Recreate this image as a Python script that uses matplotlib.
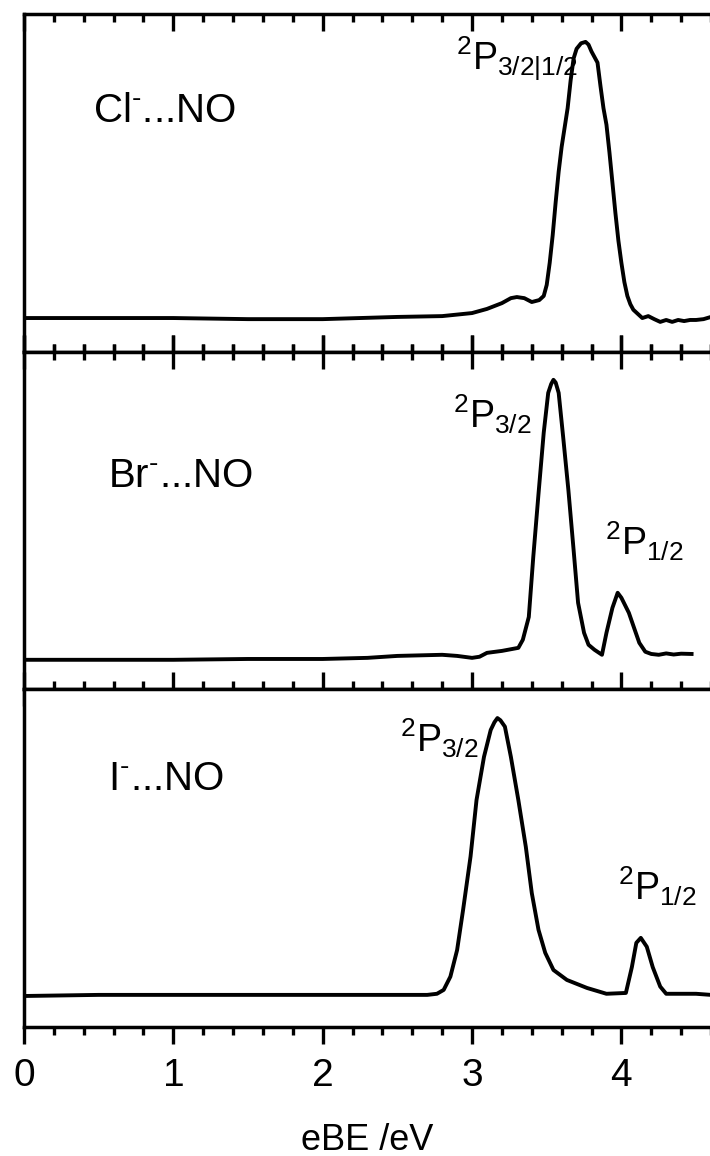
import matplotlib
matplotlib.use("Agg")
import matplotlib.pyplot as plt
from matplotlib.ticker import MultipleLocator

plt.rcParams['font.family'] = ['Liberation Sans', 'DejaVu Sans']
plt.rcParams['mathtext.fontset'] = 'custom'
plt.rcParams['mathtext.rm'] = 'Liberation Sans'
plt.rcParams['mathtext.it'] = 'Liberation Sans'
plt.rcParams['mathtext.default'] = 'regular'

# Cl-...NO spectrum (normalised intensity)
cl_ebe = [0.0, 0.5, 1.0, 1.5, 2.0, 2.5, 2.8, 3.0, 3.1, 3.2, 3.26, 3.3, 3.35, 3.4,
          3.45, 3.48, 3.5, 3.52, 3.54, 3.56, 3.58, 3.6, 3.62, 3.64, 3.66, 3.68,
          3.7, 3.73, 3.76, 3.78, 3.8, 3.82, 3.84, 3.86, 3.88, 3.9, 3.92, 3.94,
          3.96, 3.98, 4.0, 4.02, 4.04, 4.06, 4.08, 4.1, 4.12, 4.14, 4.18, 4.22,
          4.26, 4.3, 4.34, 4.38, 4.42, 4.46, 4.5, 4.55, 4.6]
cl_int = [0.0, 0.0, 0.0, -0.004, -0.004, 0.004, 0.007, 0.018, 0.033, 0.054, 0.072,
          0.076, 0.072, 0.058, 0.065, 0.08, 0.12, 0.20, 0.30, 0.42, 0.53, 0.62,
          0.69, 0.76, 0.86, 0.94, 0.975, 0.995, 1.0, 0.99, 0.965, 0.945, 0.925,
          0.84, 0.76, 0.70, 0.60, 0.49, 0.38, 0.28, 0.20, 0.13, 0.08, 0.05,
          0.03, 0.02, 0.01, 0.0, 0.007, -0.004, -0.014, -0.007, -0.014, -0.007,
          -0.011, -0.007, -0.007, -0.004, 0.004]

# Br-...NO spectrum
br_ebe = [0.0, 0.5, 1.0, 1.5, 2.0, 2.3, 2.5, 2.8, 2.9, 3.0, 3.05, 3.1, 3.2, 3.27,
          3.31, 3.34, 3.38, 3.41, 3.445, 3.48, 3.51, 3.53, 3.545, 3.56, 3.58,
          3.61, 3.645, 3.68, 3.71, 3.75, 3.78, 3.82, 3.87, 3.9, 3.94, 3.975, 4.0,
          4.05, 4.09, 4.12, 4.16, 4.2, 4.25, 4.3, 4.35, 4.4, 4.47]
br_int = [-0.007, -0.007, -0.007, -0.004, -0.004, 0.0, 0.007, 0.011, 0.007, 0.0,
          0.004, 0.018, 0.025, 0.032, 0.036, 0.065, 0.147, 0.363, 0.59, 0.81,
          0.953, 0.985, 1.0, 0.99, 0.953, 0.795, 0.604, 0.388, 0.198, 0.09,
          0.047, 0.029, 0.011, 0.09, 0.18, 0.234, 0.216, 0.162, 0.10, 0.054,
          0.022, 0.014, 0.011, 0.016, 0.012, 0.015, 0.014]

# I-...NO spectrum
i_ebe = [0.0, 0.5, 1.0, 1.5, 2.0, 2.5, 2.7, 2.765, 2.81, 2.855, 2.9, 2.94, 2.99,
         3.03, 3.08, 3.125, 3.15, 3.17, 3.19, 3.22, 3.26, 3.31, 3.36, 3.40,
         3.445, 3.49, 3.545, 3.635, 3.77, 3.9, 4.03, 4.07, 4.10, 4.13, 4.17,
         4.21, 4.26, 4.30, 4.4, 4.5, 4.6]
i_int = [-0.004, 0.0, 0.0, 0.0, 0.0, 0.0, 0.0, 0.004, 0.018, 0.066, 0.162, 0.307,
         0.5, 0.704, 0.86, 0.957, 0.985, 1.0, 0.992, 0.969, 0.86, 0.704, 0.535,
         0.368, 0.235, 0.152, 0.09, 0.054, 0.025, 0.004, 0.007, 0.10, 0.188,
         0.206, 0.174, 0.10, 0.03, 0.004, 0.004, 0.004, 0.0]

panel_names = [r"Cl$^{\text{-}}$...NO", r"Br$^{\text{-}}$...NO", r"I$^{\text{-}}$...NO"]
name_pos = [(0.46, 0.71), (0.563, 0.615), (0.563, 0.74)]
panel_ylims = [(-0.123, 1.101), (-0.112, 1.10), (-0.116, 1.105)]

fig = plt.figure(figsize=(7.1, 11.56), dpi=100)
W = 687 / 710
ax_cl = fig.add_axes([24 / 710, 1 - 352 / 1156, W, 338 / 1156])
ax_br = fig.add_axes([24 / 710, 1 - 689 / 1156, W, 337 / 1156])
ax_i = fig.add_axes([24 / 710, 1 - 1027 / 1156, W, 338 / 1156])

axes = [ax_cl, ax_br, ax_i]
data = [(cl_ebe, cl_int), (br_ebe, br_int), (i_ebe, i_int)]

for ax, (x, y), name, pos, yl in zip(axes, data, panel_names, name_pos, panel_ylims):
    ax.plot(x, y, color='black', lw=2.8, solid_joinstyle='round')
    ax.set_xlim(0, 4.6)
    ax.set_ylim(*yl)
    ax.set_yticks([])
    ax.xaxis.set_major_locator(MultipleLocator(1))
    ax.xaxis.set_minor_locator(MultipleLocator(0.2))
    for s in ax.spines.values():
        s.set_linewidth(2.5)
    ax.spines['right'].set_visible(False)
    ax.text(pos[0], pos[1], name, fontsize=29, va='baseline', ha='left')

# ticks
ax_cl.tick_params(axis='x', which='both', direction='in', top=True, bottom=True,
                  labelbottom=False, width=2.4)
ax_cl.tick_params(axis='x', which='major', length=12)
ax_cl.tick_params(axis='x', which='minor', length=6)
ax_br.tick_params(axis='x', which='both', direction='inout', top=True, bottom=True,
                  labelbottom=False, width=2.4)
ax_br.tick_params(axis='x', which='major', length=24)
ax_br.tick_params(axis='x', which='minor', length=12)
ax_i.tick_params(axis='x', which='both', direction='out', top=False, bottom=True,
                 width=2.4, labelsize=28, pad=10)
ax_i.tick_params(axis='x', which='major', length=12)
ax_i.tick_params(axis='x', which='minor', length=6)

# x axis title, baseline placed near the bottom edge as in the original
fig.text((24 + 710) / 2 / 710, 1 - 1150 / 1156, "eBE /eV", fontsize=26,
         ha='center', va='baseline')

# peak labels
ax_cl.text(2.89, 0.899, r"$^{2}$P$_{3/2|1/2}$", fontsize=27, va='baseline')
ax_br.text(2.87, 0.827, r"$^{2}$P$_{3/2}$", fontsize=27, va='baseline')
ax_br.text(3.89, 0.370, r"$^{2}$P$_{1/2}$", fontsize=27, va='baseline')
ax_i.text(2.52, 0.877, r"$^{2}$P$_{3/2}$", fontsize=27, va='baseline')
ax_i.text(3.98, 0.343, r"$^{2}$P$_{1/2}$", fontsize=27, va='baseline')

fig.savefig("out.png", dpi=100)
